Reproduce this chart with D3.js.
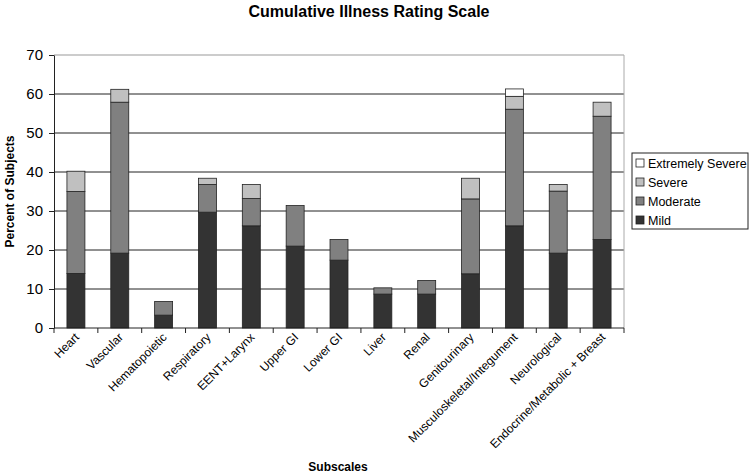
<!DOCTYPE html>
<html>
<head>
<meta charset="utf-8">
<script src="https://cdn.jsdelivr.net/npm/d3@7"></script>
<style>
  body { margin: 0; background: #fff; }
  svg { font-family: "Liberation Sans", Arial, sans-serif; }
</style>
</head>
<body>
<svg id="chart"></svg>
<script>
const width = 750;
const height = 475;

const margin = { top: 55, right: 126, bottom: 147, left: 54 };

// data
const subscales = ["Heart", "Vascular", "Hematopoietic", "Respiratory", "EENT+Larynx",
  "Upper GI", "Lower GI", "Liver", "Renal", "Genitourinary",
  "Musculoskeletal/Integument", "Neurological", "Endocrine/Metabolic + Breast"];
const severities = ["Mild", "Moderate", "Severe", "Extremely Severe"];
const mild     = [14.0, 19.2, 3.3, 29.7, 26.2, 21.0, 17.4, 8.7, 8.7, 13.9, 26.2, 19.2, 22.7];
const moderate = [21.0, 38.7, 3.5, 7.1, 7.0, 10.4, 5.3, 1.6, 3.5, 19.2, 29.9, 15.9, 31.6];
const severe   = [5.2, 3.3, 0, 1.6, 3.6, 0, 0, 0, 0, 5.3, 3.3, 1.7, 3.6];
const extreme  = [0, 0, 0, 0, 0, 0, 0, 0, 0, 0, 1.9, 0, 0];
const yTicks = [0, 10, 20, 30, 40, 50, 60, 70];
const colors = ["#333333", "#808080", "#c0c0c0", "#ffffff"];

const svg = d3.select("#chart").attr("width", width).attr("height", height);

const innerWidth = width - margin.left - margin.right;
const innerHeight = height - margin.top - margin.bottom;

const graph = svg.append("g")
  .attr("transform", `translate(${margin.left}, ${margin.top})`);

const table = subscales.map((s, i) => ({
  name: s, Mild: mild[i], Moderate: moderate[i], Severe: severe[i], "Extremely Severe": extreme[i]
}));
const stacked = d3.stack().keys(severities)(table);

const xScale = d3.scaleBand().domain(subscales).range([0, innerWidth]).paddingInner(0.59).paddingOuter(0.295);
const yScale = d3.scaleLinear().domain([0, 70]).range([innerHeight, 0]);

// gridlines
graph.selectAll(".grid")
  .data(yTicks.slice(1))
  .enter().append("line")
  .attr("x1", 0).attr("x2", innerWidth)
  .attr("y1", d => yScale(d)).attr("y2", d => yScale(d))
  .attr("stroke", d => d === 70 ? "#999" : "#222")
  .attr("stroke-width", 1);

// right border
graph.append("line")
  .attr("x1", innerWidth).attr("x2", innerWidth)
  .attr("y1", 0).attr("y2", innerHeight)
  .attr("stroke", "#aaa");

// bars
graph.selectAll(".layer")
  .data(stacked)
  .enter().append("g")
  .attr("fill", (d, i) => colors[i])
  .selectAll("rect")
  .data(d => d.filter(p => p[1] - p[0] > 0))
  .enter().append("rect")
  .attr("x", d => xScale(d.data.name))
  .attr("width", xScale.bandwidth())
  .attr("y", d => yScale(d[1]))
  .attr("height", d => yScale(d[0]) - yScale(d[1]))
  .attr("stroke", "#222")
  .attr("stroke-width", 0.8);

// y axis
const yAxis = graph.append("g")
  .call(d3.axisLeft(yScale).tickValues(yTicks).tickSize(5).tickSizeOuter(0));
yAxis.select(".domain").attr("stroke", "#222");
yAxis.selectAll("line").attr("stroke", "#222");
yAxis.selectAll("text").attr("font-size", 15).attr("fill", "#000").attr("x", -11);

// x axis (ticks between categories)
const xAxisG = graph.append("g").attr("transform", `translate(0, ${innerHeight})`);
xAxisG.append("line").attr("x1", 0).attr("x2", innerWidth).attr("stroke", "#222");
xAxisG.selectAll(".tick")
  .data(d3.range(subscales.length + 1))
  .enter().append("line")
  .attr("x1", i => i * innerWidth / subscales.length)
  .attr("x2", i => i * innerWidth / subscales.length)
  .attr("y1", 0).attr("y2", 5)
  .attr("stroke", "#222");
xAxisG.selectAll(".label")
  .data(subscales)
  .enter().append("text")
  .attr("transform", d => `translate(${xScale(d) + xScale.bandwidth() / 2 + 4}, 10) rotate(-45)`)
  .attr("text-anchor", "end")
  .attr("font-size", 12)
  .text(d => d);

// titles
svg.append("text")
  .attr("x", 369).attr("y", 17)
  .attr("text-anchor", "middle")
  .attr("font-weight", "bold").attr("font-size", 16)
  .text("Cumulative Illness Rating Scale");

svg.append("text")
  .attr("transform", `translate(14, ${margin.top + innerHeight / 2}) rotate(-90)`)
  .attr("text-anchor", "middle")
  .attr("font-weight", "bold").attr("font-size", 12)
  .text("Percent of Subjects");

svg.append("text")
  .attr("x", 338).attr("y", 471)
  .attr("text-anchor", "middle")
  .attr("font-weight", "bold").attr("font-size", 12)
  .text("Subscales");

// legend
const legend = svg.append("g").attr("transform", "translate(632, 153)");
legend.append("rect")
  .attr("width", 116).attr("height", 76)
  .attr("fill", "#fff").attr("stroke", "#222");
const items = legend.selectAll(".item")
  .data(severities.slice().reverse())
  .enter().append("g")
  .attr("transform", (d, i) => `translate(4, ${10 + i * 19})`);
items.append("rect")
  .attr("y", -4).attr("width", 8).attr("height", 8)
  .attr("fill", d => colors[severities.indexOf(d)])
  .attr("stroke", "#222").attr("stroke-width", 0.8);
items.append("text")
  .attr("x", 12).attr("y", 4.5)
  .attr("font-size", 12.5)
  .text(d => d);
</script>
</body>
</html>
